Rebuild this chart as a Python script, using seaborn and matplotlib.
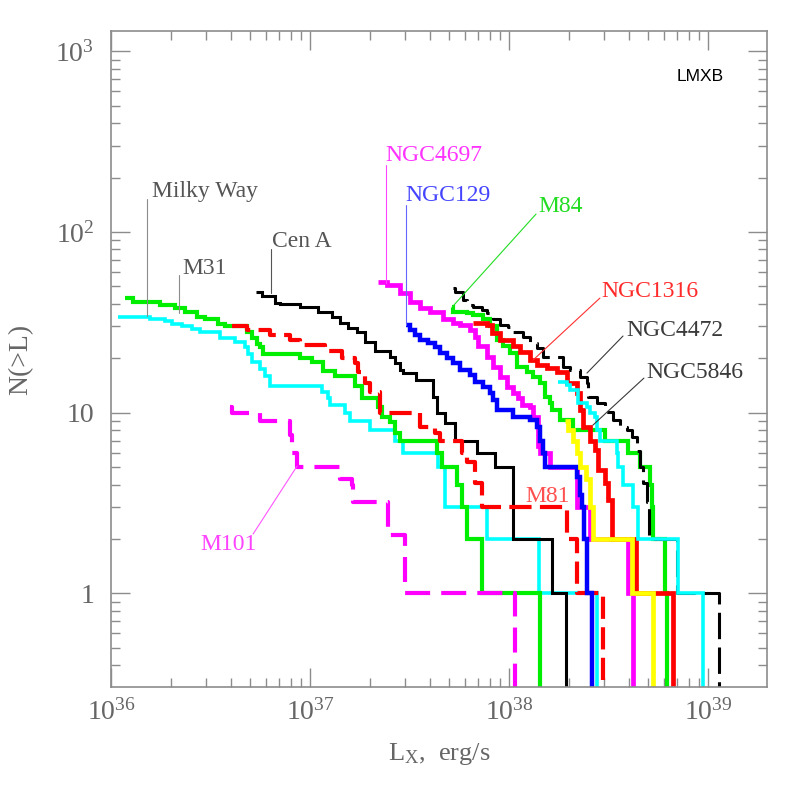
import numpy as np
import pandas as pd
import matplotlib
matplotlib.use("Agg")
import matplotlib.pyplot as plt
from matplotlib.ticker import FixedLocator, LogLocator, FuncFormatter, NullFormatter
import seaborn as sns

# ========= DATA: log10(L_X / erg s^-1) and cumulative N(>L) =========
mw_logL = [36.035, 36.196, 36.271, 36.307, 36.357, 36.407, 36.447, 36.548, 36.623, 36.673,
           36.688, 36.709, 36.749, 36.774, 36.799, 37.060, 37.090, 37.101, 37.176, 37.201,
           37.302, 37.427, 37.467, 37.643, 37.678, 37.889, 38.151, 38.442]
mw_N = [34, 33, 32, 31, 30, 29, 28, 26, 24.5, 23, 21, 19, 17.5, 16, 14, 13, 12, 11, 10, 9,
        8, 7, 6, 5, 3, 2, 1, 0.1]

m31_logL = [36.070, 36.111, 36.246, 36.322, 36.372, 36.432, 36.472, 36.538, 36.573, 36.683,
            36.709, 36.734, 36.749, 36.764, 36.950, 37.010, 37.065, 37.126, 37.226, 37.261,
            37.342, 37.362, 37.402, 37.427, 37.452, 37.638, 37.663, 37.739, 37.764, 37.789,
            37.864, 38.156]
m31_N = [43, 41, 39.5, 38, 36, 34, 33, 31, 30, 28, 26, 24, 23, 21, 20, 19, 17, 16, 14, 12,
         10.7, 9.5, 8.9, 7.7, 7, 6, 5, 4, 3, 2, 1, 0.1]

cena_logL = [36.729, 36.759, 36.824, 36.849, 36.950, 37.040, 37.111, 37.151, 37.191, 37.236,
             37.276, 37.327, 37.402, 37.427, 37.452, 37.467, 37.533, 37.618, 37.638, 37.678,
             37.729, 37.839, 37.930, 38.020, 38.216, 38.286]
cena_N = [46.5, 44, 40.5, 40, 38.5, 36, 34, 31.3, 29.5, 28, 24.6, 22, 20.3, 18.8, 17.2, 16.6,
          15.2, 12.2, 10, 8.8, 7, 6, 5, 2, 1, 0.1]

m81_logL = [36.608, 36.683, 36.799, 36.899, 36.950, 37.075, 37.161, 37.226, 37.241, 37.276,
            37.302, 37.352, 37.553, 37.628, 37.653, 37.764, 37.789, 37.829, 37.864, 38.291,
            38.342, 38.472]
m81_N = [30, 28.6, 27, 25.3, 23.7, 22, 20, 18.8, 16.8, 14.6, 13, 10, 8.3, 7.7, 7, 6, 5.3, 4.1,
         3, 2, 1, 0.1]

m101_logL = [36.598, 36.608, 36.749, 36.899, 36.910, 36.935, 37.151, 37.211, 37.216, 37.392,
             37.477, 38.030]
m101_N = [10.7, 10, 9, 7.5, 6, 5, 4.3, 4, 3.2, 2.1, 1, 0.1]

n4697_logL = [37.342, 37.387, 37.452, 37.503, 37.553, 37.603, 37.668, 37.719, 37.754, 37.804,
              37.829, 37.844, 37.889, 37.920, 37.955, 37.990, 38.020, 38.045, 38.065, 38.106,
              38.121, 38.146, 38.156, 38.206, 38.342, 38.407, 38.598, 38.623]
n4697_N = [52.6, 50.6, 46, 41, 38, 36, 33, 31.3, 30.5, 28.6, 26.3, 23.3, 20.3, 17.9, 15.8,
           13.9, 12.8, 12, 11, 10.7, 9.5, 6.5, 6, 5, 3, 2, 1, 0.1]

n129_logL = [37.482, 37.503, 37.528, 37.553, 37.593, 37.628, 37.653, 37.688, 37.719, 37.754,
             37.804, 37.829, 37.869, 37.905, 37.920, 37.940, 38.020, 38.106, 38.141, 38.156,
             38.171, 38.181, 38.342, 38.357, 38.367, 38.377, 38.392, 38.417]
n129_N = [30.5, 28.6, 27, 25.3, 24.3, 23, 21.3, 20, 18.8, 17.2, 16.2, 14.8, 13.9, 12.8, 11.7,
          10.3, 9.5, 9.1, 8.3, 7, 6, 5, 4.4, 3.5, 3, 2, 1, 0.1]

m84_logL = [37.714, 37.719, 37.789, 37.819, 37.869, 37.905, 37.940, 37.970, 38.005, 38.040,
            38.090, 38.121, 38.156, 38.181, 38.206, 38.216, 38.256, 38.322, 38.482, 38.598,
            38.658, 38.709, 38.719, 38.724, 38.784, 38.794]
m84_N = [38.6, 36.2, 35.7, 34.8, 33, 30, 25.3, 23.3, 21.3, 17.9, 16.8, 15.8, 14.6, 12.2, 11.3,
         10.3, 9.1, 8, 7, 6, 5, 4, 3, 2, 1, 0.1]

n1316_logL = [37.819, 37.889, 37.915, 37.955, 38.020, 38.055, 38.106, 38.141, 38.191, 38.241,
              38.291, 38.342, 38.357, 38.372, 38.407, 38.432, 38.447, 38.482, 38.497, 38.518,
              38.638, 38.824]
n1316_N = [31.3, 30.5, 27.6, 25.3, 23.3, 21.7, 19.6, 18.4, 17.6, 16.8, 14.6, 12.8, 10.3, 8.3,
           7, 6.2, 4.8, 4.1, 3.3, 2, 1, 0.1]

yel_logL = [38.281, 38.296, 38.322, 38.342, 38.357, 38.387, 38.407, 38.422, 38.618, 38.724]
yel_N = [9, 8, 7, 6, 5, 4.3, 3, 2, 1, 0.1]

n5846_logL = [38.246, 38.291, 38.307, 38.347, 38.392, 38.407, 38.432, 38.442, 38.457, 38.543,
              38.548, 38.573, 38.623, 38.648, 38.849, 38.975]
n5846_N = [14.8, 14.2, 13.3, 11.3, 10.7, 10, 9.5, 8, 7, 6, 5, 4, 3, 2, 1, 0.1]

n4472_logL = [37.719, 37.729, 37.769, 37.789, 37.819, 37.864, 37.889, 37.920, 37.955, 37.995,
              38.020, 38.070, 38.106, 38.141, 38.171, 38.271, 38.307, 38.357, 38.392, 38.397,
              38.442, 38.482, 38.523, 38.558, 38.593, 38.618, 38.643, 38.658, 38.673, 38.693,
              38.704, 38.844, 39.055]
n4472_N = [49, 46.7, 41.9, 39.5, 38.6, 37.2, 35.7, 32.8, 30.5, 29.8, 28, 26.3, 24.3, 22.7, 20.3,
           17.9, 17.2, 15.7, 14.6, 12.2, 11.3, 10.1, 9.1, 8.3, 8, 7.3, 6.1, 5, 4.1, 3.2, 2, 1, 0.1]

# ========= STYLE =========
sns.set_style("ticks")
plt.rcParams["font.family"] = ["Liberation Serif", "DejaVu Serif"]
plt.rcParams["mathtext.fontset"] = "custom"
plt.rcParams["mathtext.rm"] = "Liberation Serif"
plt.rcParams["mathtext.it"] = "Liberation Serif:italic"
plt.rcParams["lines.scale_dashes"] = False

AX_GRAY = "#8c8c8c"
TXT_GRAY = "#666666"

# (logL, N, colour, width, linestyle) in drawing order
curves = [
    (mw_logL, mw_N, "#00ffff", 2.6, "-"),
    (m31_logL, m31_N, "#00ee00", 3.0, "-"),
    (cena_logL, cena_N, "black", 2.2, "-"),
    (m81_logL, m81_N, "#ff0000", 3.0, (0, (16, 6))),
    (m101_logL, m101_N, "#ff00ff", 3.0, (0, (18, 8))),
    (n4697_logL, n4697_N, "#ff00ff", 3.4, "-"),
    (n129_logL, n129_N, "#0000ff", 3.2, "-"),
    (m84_logL, m84_N, "#00ee00", 3.0, "-"),
    (n1316_logL, n1316_N, "#ff0000", 3.4, "-"),
    (n4472_logL, n4472_N, "black", 2.2, (0, (19, 6))),
    (n5846_logL, n5846_N, "#00ffff", 2.6, "-"),
    (yel_logL, yel_N, "#ffff00", 3.4, "-"),
]

# text label, text position (logL, logN), leader start/end (logL, logN), text colour, line colour
labels = [
    ("Milky Way", (36.206, 2.193), (36.181, 2.183), (36.181, 1.535), "#555555", AX_GRAY),
    ("M31", (36.357, 1.767), (36.342, 1.762), (36.342, 1.551), "#555555", AX_GRAY),
    ("Cen A", (36.809, 1.916), (36.804, 1.906), (36.804, 1.662), "#555555", "#555555"),
    ("NGC4697", (37.377, 2.392), (37.382, 2.37), (37.382, 1.717), "#ff33ff", "#ff44ff"),
    ("NGC129", (37.477, 2.171), (37.482, 2.149), (37.482, 1.485), "#4444ff", "#6666ff"),
    ("M84", (38.146, 2.110), (38.136, 2.099), (37.714, 1.584), "#22dd22", "#22dd22"),
    ("NGC1316", (38.462, 1.640), (38.457, 1.634), (38.121, 1.291), "#ff2a2a", "#ff3030"),
    ("NGC4472", (38.588, 1.424), (38.573, 1.424), (38.392, 1.219), "#3a3a3a", "#3a3a3a"),
    ("NGC5846", (38.688, 1.191), (38.678, 1.191), (38.422, 0.931), "#3a3a3a", "#3a3a3a"),
    ("M81", (38.080, 0.506), None, None, "#ff5050", None),
    ("M101", (36.447, 0.240), (36.714, 0.328), (36.935, 0.704), "#ff44ff", "#ff55ff"),
]

# ========= PLOT =========
fig = plt.figure(figsize=(7.97, 7.97), dpi=100)
ax = fig.add_axes([111 / 797, 1 - 687 / 797, 656 / 797, 656 / 797])
ax.set_xscale("log")
ax.set_yscale("log")

for logL, N, color, lw, ls in curves:
    df = pd.DataFrame({"L": 10 ** np.array(logL), "N": N})
    sns.lineplot(data=df, x="L", y="N", ax=ax, color=color, linewidth=lw, linestyle=ls,
                 drawstyle="steps-post", estimator=None, sort=False, legend=False,
                 solid_joinstyle="miter", solid_capstyle="butt", dash_capstyle="butt")

for text, tpos, p0, p1, tcol, lcol in labels:
    if p0 is not None:
        ax.plot([10 ** p0[0], 10 ** p1[0]], [10 ** p0[1], 10 ** p1[1]], color=lcol, lw=0.8)
    ax.text(10 ** tpos[0], 10 ** tpos[1], text, color=tcol, fontsize=17,
            ha="left", va="baseline")

ax.text(0.898, 0.930, "LMXB", transform=ax.transAxes, fontsize=12.5, color="black",
        family="Liberation Sans", ha="center", va="center")

ax.set_xlim(1e36, 1.98e39)
ax.set_ylim(0.303, 1295)

# ticks
ax.xaxis.set_major_locator(FixedLocator([1e36, 1e37, 1e38, 1e39]))
ax.xaxis.set_minor_locator(LogLocator(base=10, subs=np.arange(2, 10), numticks=50))
ax.yaxis.set_major_locator(FixedLocator([1, 10, 100, 1000]))
ax.yaxis.set_minor_locator(LogLocator(base=10, subs=np.arange(2, 10), numticks=50))
ax.xaxis.set_major_formatter(FuncFormatter(lambda v, p: r"$\mathregular{10^{%d}}$" % round(np.log10(v))))
ax.yaxis.set_major_formatter(FuncFormatter(
    lambda v, p: "%d" % round(v) if v < 50 else r"$\mathregular{10^{%d}}$" % round(np.log10(v))))
ax.xaxis.set_minor_formatter(NullFormatter())
ax.yaxis.set_minor_formatter(NullFormatter())

ax.tick_params(which="both", direction="in", top=True, right=True, colors=AX_GRAY,
               labelcolor=TXT_GRAY, labelsize=20)
ax.tick_params(which="major", length=13.5, width=1.0)
ax.tick_params(which="minor", length=6.5, width=1.0)
ax.tick_params(axis="x", which="major", pad=9)
ax.tick_params(axis="y", which="major", pad=12)

for sp in ax.spines.values():
    sp.set_color(AX_GRAY)
    sp.set_linewidth(1.2)

ax.set_xlabel(r"L$_{\mathregular{X}}$,  erg/s", fontsize=19, color=TXT_GRAY)
ax.set_ylabel("N(>L)", fontsize=20, color=TXT_GRAY)
ax.xaxis.set_label_coords(0.5, -0.083)
ax.yaxis.set_label_coords(-0.118, 0.5)

fig.savefig("out.png", dpi=100, facecolor="white")
